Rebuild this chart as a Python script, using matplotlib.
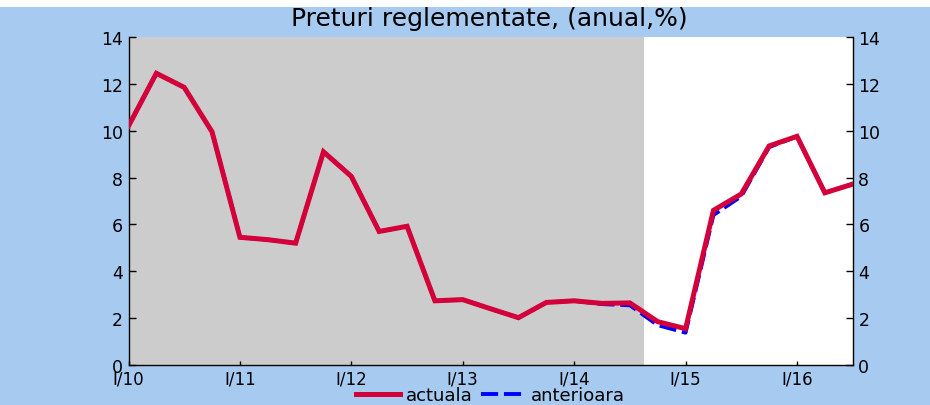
import matplotlib
matplotlib.use("Agg")
import matplotlib.pyplot as plt
from matplotlib.patches import Rectangle

plt.rcParams['font.family'] = ['DejaVu Sans']

title = "Preturi reglementate, (anual,%)"
quarters = ["I/10", "II/10", "III/10", "IV/10", "I/11", "II/11", "III/11", "IV/11",
            "I/12", "II/12", "III/12", "IV/12", "I/13", "II/13", "III/13", "IV/13",
            "I/14", "II/14", "III/14", "IV/14", "I/15", "II/15", "III/15", "IV/15",
            "I/16", "II/16", "III/16"]
actuala = [10.2, 12.45, 11.85, 9.95, 5.45, 5.35, 5.2, 9.1, 8.05, 5.7, 5.92, 2.74,
           2.79, 2.4, 2.02, 2.67, 2.74, 2.63, 2.65, 1.85, 1.55, 6.6, 7.3, 9.35,
           9.76, 7.35, 7.72]
anterioara = [10.2, 12.45, 11.85, 9.95, 5.45, 5.35, 5.2, 9.1, 8.05, 5.7, 5.92, 2.74,
              2.79, 2.4, 2.02, 2.67, 2.74, 2.6, 2.55, 1.7, 1.38, 6.4, 7.2, 9.3,
              9.76, 7.35, 7.72]
year_labels = ["I/10", "I/11", "I/12", "I/13", "I/14", "I/15", "I/16"]
yticks = [0, 2, 4, 6, 8, 10, 12, 14]
shade_end = 18.5

BG = "#A6CAF0"
RED = "#D4003A"
BLUE = "#0000FF"
GRAY = "#CCCCCC"

fig = plt.figure(figsize=(9.3, 4.06), dpi=100, facecolor="white")
fig.patches.append(Rectangle((0, 0), 1, 1 - 8 / 406, transform=fig.transFigure,
                             facecolor=BG, edgecolor="none", zorder=-10))

ax = fig.add_axes([128.5 / 930, 1 - 366 / 406, 724.2 / 930, 328 / 406])
ax.set_facecolor("white")
x = list(range(len(quarters)))
ax.axvspan(0, shade_end, color=GRAY, lw=0, zorder=0)
ax.plot(x, anterioara, color=BLUE, lw=2.8, dashes=(4.4, 1.5), zorder=2, label="anterioara")
ax.plot(x, actuala, color=RED, lw=3.6, zorder=3, label="actuala",
        solid_joinstyle="miter")

ax.set_xlim(0, len(quarters) - 1)
ax.set_ylim(0, 14)
ax.set_xticks([quarters.index(q) for q in year_labels])
ax.set_xticklabels(year_labels)
ax.set_yticks(yticks)
ax.set_yticklabels([str(v) for v in yticks])
ax.tick_params(axis="y", direction="in", length=5, width=1, labelsize=12.5, pad=4,
               right=True, labelright=True)
ax.tick_params(axis="x", direction="in", length=3, width=1, labelsize=12, pad=3)
ax.spines["top"].set_visible(False)
for s in ("left", "bottom", "right"):
    ax.spines[s].set_linewidth(1.0)
    ax.spines[s].set_color("black")

h, l = ax.get_legend_handles_labels()
leg = fig.legend([h[1], h[0]], [l[1], l[0]], loc="center",
                 bbox_to_anchor=(490.6 / 930, 1 - 396 / 406), ncol=2, frameon=False,
                 fontsize=13, handlelength=2.4, handletextpad=0.33, columnspacing=0.5,
                 borderpad=0, borderaxespad=0)

fig.text(489 / 930, 1 - 19 / 406, title, ha="center", va="center", fontsize=18)

fig.savefig("out.png", dpi=100, facecolor=fig.get_facecolor())
